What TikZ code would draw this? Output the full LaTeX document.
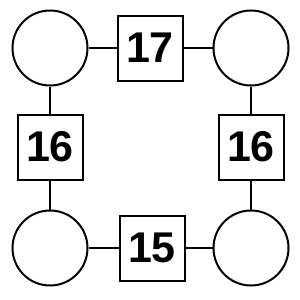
\documentclass[tikz,border=0pt]{standalone}
\usepackage{fontspec}
\setmainfont{Liberation Sans}
\usetikzlibrary{positioning}

\begin{document}
\begin{tikzpicture}[
  x=1pt,y=-1pt,
  ring/.style={circle,draw=black,line width=2pt,minimum size=75pt,inner sep=0pt},
  numbox/.style={rectangle,draw=black,line width=2pt,minimum size=65pt,inner sep=0pt,font=\fontsize{43}{43}\selectfont\bfseries},
  link/.style={line width=2pt,draw=black}
]
  \useasboundingbox (0,0) rectangle (300,300);
  \node[ring] (tl) at (50,48) {};
  \node[ring] (tr) at (251,48) {};
  \node[ring] (bl) at (50,248) {};
  \node[ring] (br) at (251,248) {};
  \node[numbox] (top) at (150,48) {17};
  \node[numbox] (left) at (50,147) {16};
  \node[numbox] (right) at (251,147) {16};
  \node[numbox] (bottom) at (152,248) {15};
  \draw[link] (tl) -- (top);
  \draw[link] (top) -- (tr);
  \draw[link] (tl) -- (left);
  \draw[link] (left) -- (bl);
  \draw[link] (tr) -- (right);
  \draw[link] (right) -- (br);
  \draw[link] (bl) -- (bottom);
  \draw[link] (bottom) -- (br);
\end{tikzpicture}
\end{document}
